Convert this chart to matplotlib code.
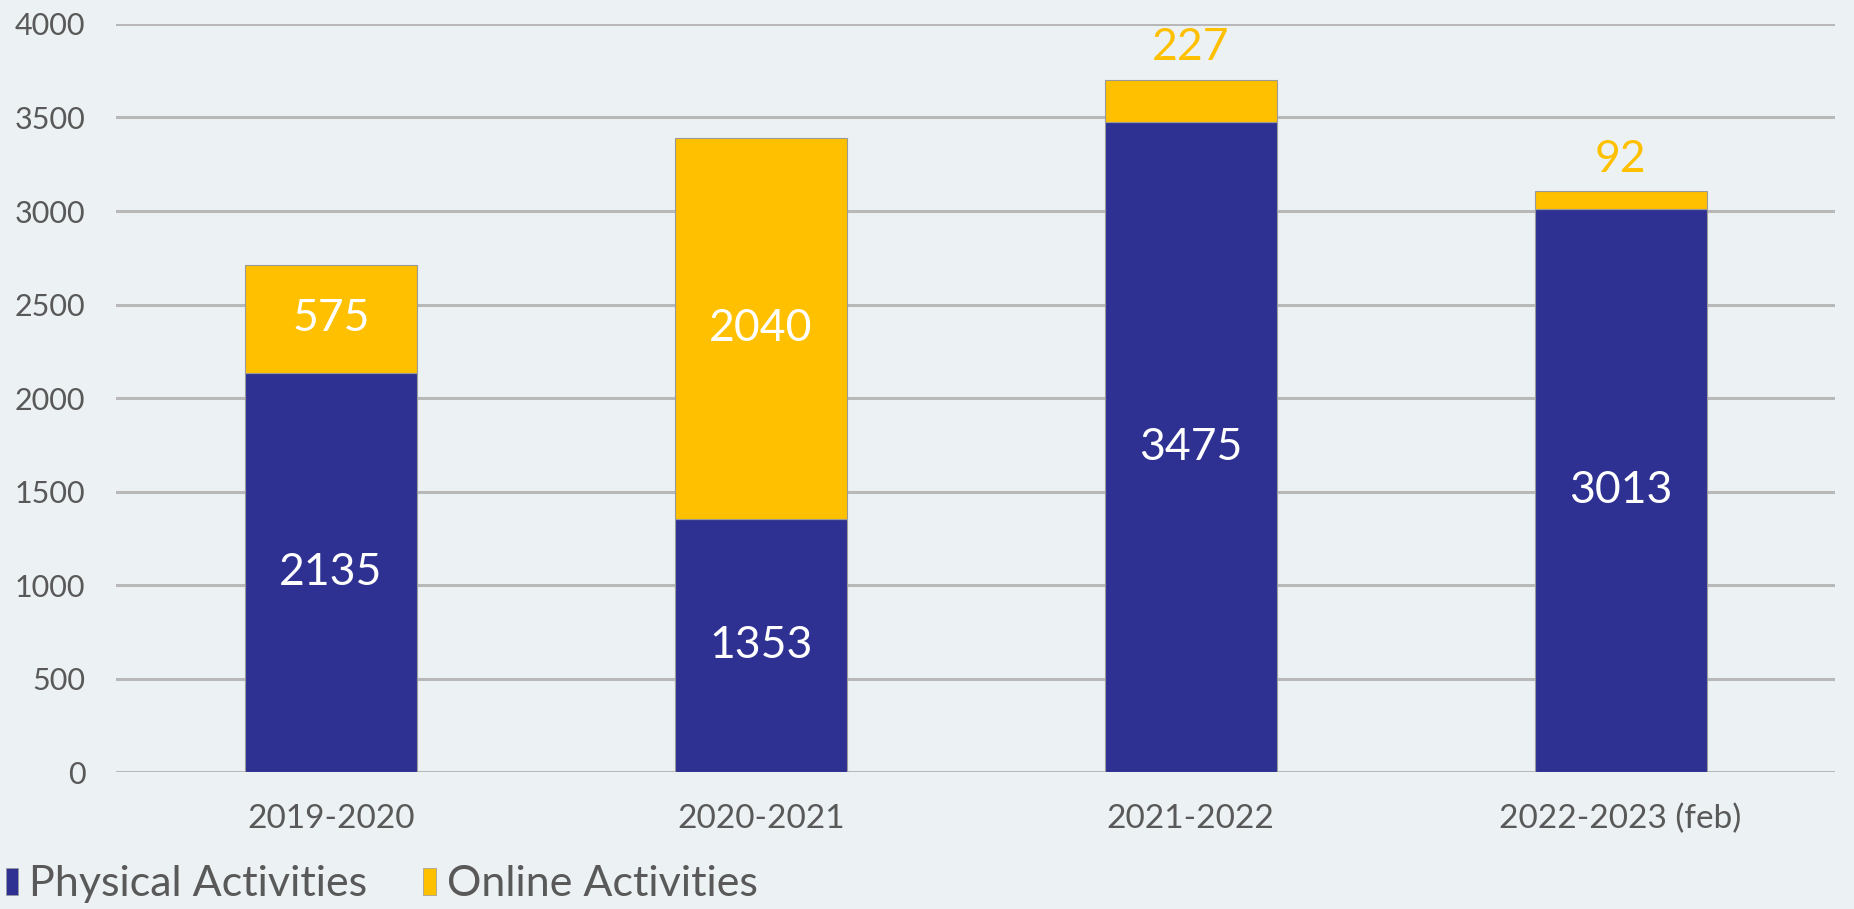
import numpy as np
import matplotlib
matplotlib.use("Agg")
import matplotlib.pyplot as plt
from matplotlib.patches import Patch

plt.rcParams["font.family"] = ["Lato", "DejaVu Sans"]

years = ["2019-2020", "2020-2021", "2021-2022", "2022-2023 (feb)"]
physical = [2135, 1353, 3475, 3013]
online = [575, 2040, 227, 92]

NAVY = "#2E3192"
GOLD = "#FFC000"
TEXT = "#595959"
BG = "#ecf1f3"

fig = plt.figure(figsize=(18.54, 9.09), dpi=100)
fig.patch.set_facecolor(BG)
ax = fig.add_axes([0.0626, 0.1507, 0.9274, 0.8229])
ax.set_facecolor("none")

x = np.arange(len(years))
phys = np.array(physical)
onl = np.array(online)

ax.bar(x, phys, width=0.4, color=NAVY, edgecolor="#9a9a9a", linewidth=0.8, zorder=3)
ax.bar(x, onl, width=0.4, bottom=phys, color=GOLD, edgecolor="#9a9a9a",
       linewidth=0.8, zorder=3)

# value labels: inside the segment if it is tall enough, above the bar otherwise
for i in range(len(years)):
    ax.text(x[i], phys[i] / 2, str(phys[i]), ha="center", va="center",
            color="white", fontsize=32, zorder=4)
    if onl[i] > 400:
        ax.text(x[i], phys[i] + onl[i] / 2, str(onl[i]), ha="center",
                va="center", color="white", fontsize=32, zorder=4)
    else:
        ax.annotate(str(onl[i]), (x[i], phys[i] + onl[i]),
                    xytext=(0, 32), textcoords="offset pixels",
                    ha="center", va="center", color=GOLD, fontsize=32, zorder=4)

ax.set_xlim(-0.5, len(years) - 0.5)
ax.set_ylim(0, 4000)
ax.set_yticks(np.arange(0, 4001, 500))
ax.set_xticks(x)
ax.set_xticklabels(years)
ax.tick_params(axis="y", length=0, pad=22, labelsize=22, labelcolor=TEXT)
ax.tick_params(axis="x", length=0, pad=23, labelsize=24, labelcolor=TEXT)
ax.grid(axis="y", color="#b8b8b8", linewidth=2.2, zorder=1)
for s in ax.spines.values():
    s.set_visible(False)

handles = [Patch(facecolor=NAVY, edgecolor="#9a9a9a", linewidth=0.5),
           Patch(facecolor=GOLD, edgecolor="#9a9a9a", linewidth=0.5)]
fig.legend(handles, ["Physical Activities", "Online Activities"],
           loc="center left", bbox_to_anchor=(0.003, 0.027), ncol=2,
           frameon=False, fontsize=31, labelcolor=TEXT,
           borderpad=0, borderaxespad=0,
           handlelength=0.3, handleheight=0.6, handletextpad=0.25,
           columnspacing=1.3)

fig.savefig("out.png", dpi=100, facecolor=BG)
